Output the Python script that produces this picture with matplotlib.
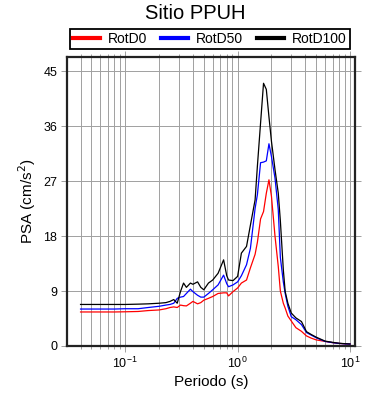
import matplotlib
matplotlib.use("Agg")
import matplotlib.pyplot as plt
from matplotlib.ticker import LogLocator, NullFormatter

plt.rcParams['font.family'] = ['Liberation Sans', 'DejaVu Sans']

periods = [0.04, 0.05, 0.06, 0.08, 0.10, 0.13, 0.16, 0.20, 0.23, 0.25, 0.27, 0.29,
           0.31, 0.33, 0.35, 0.38, 0.40, 0.44, 0.47, 0.50, 0.55, 0.60, 0.67, 0.75,
           0.80, 0.83, 0.91, 1.0, 1.08, 1.2, 1.3, 1.43, 1.5, 1.6, 1.7, 1.8, 1.9,
           2.0, 2.15, 2.3, 2.4, 2.55, 2.65, 2.8, 3.0, 3.3, 3.7, 4.1, 4.5, 5.0,
           6.0, 7.0, 8.0, 9.0, 10.0]

rotd100 = [6.8, 6.8, 6.8, 6.8, 6.8, 6.85, 6.9, 7.0, 7.1, 7.3, 7.6, 7.0,
           8.9, 10.3, 9.6, 10.3, 10.1, 10.5, 9.6, 9.2, 10.3, 10.8, 11.9, 14.1,
           11.5, 10.8, 10.7, 11.4, 15.2, 16.3, 19.8, 23.9, 29.5, 36.5, 43.0, 42.0, 37.5,
           33.5, 28.9, 25.0, 20.5, 12.5, 8.9, 7.0, 5.4, 4.6, 4.0, 2.35, 1.9, 1.45,
           0.8, 0.6, 0.45, 0.38, 0.33]

rotd50 = [6.05, 6.05, 6.05, 6.05, 6.1, 6.1, 6.3, 6.5, 6.7, 6.8, 7.0, 7.8,
          8.0, 8.1, 8.6, 9.3, 8.9, 8.3, 8.0, 8.0, 8.6, 9.2, 10.0, 11.6,
          10.2, 9.7, 10.0, 10.5, 11.5, 13.3, 16.0, 22.5, 24.8, 30.0, 30.1, 30.3, 33.1,
          31.0, 27.5, 22.3, 14.5, 10.5, 8.6, 6.5, 4.8, 4.3, 3.5, 2.2, 1.8, 1.35,
          0.75, 0.55, 0.42, 0.36, 0.32]

rotd0 = [5.57, 5.57, 5.57, 5.57, 5.6, 5.65, 5.8, 5.9, 6.1, 6.3, 6.4, 6.3,
         6.7, 6.6, 6.56, 7.0, 7.3, 6.9, 7.1, 7.5, 7.8, 8.1, 8.6, 8.7,
         8.7, 8.2, 8.9, 9.5, 10.3, 10.8, 12.8, 15.0, 17.0, 20.8, 22.0, 25.0, 27.2,
         24.5, 18.0, 13.0, 9.0, 7.0, 6.2, 4.9, 4.1, 3.0, 2.4, 1.65, 1.3, 1.0,
         0.75, 0.55, 0.42, 0.36, 0.32]

series_labels = ['RotD0', 'RotD50', 'RotD100']
series_colors = ['#ff0000', '#0000ff', '#000000']
yticks = [0, 9, 18, 27, 36, 45]

fig = plt.figure(figsize=(3.9, 4.0), dpi=100)
ax = fig.add_axes([67/390, 1-346/400, (355-67)/390, (346-57)/400])

for vals, lab, col in zip([rotd0, rotd50, rotd100], series_labels, series_colors):
    ax.plot(periods, vals, color=col, lw=0.9, label=lab, zorder=3)

ax.set_xscale('log')
ax.set_xlim(0.0303, 11.08)
ax.set_ylim(0, 47.3)
ax.set_yticks(yticks)
ax.xaxis.set_major_locator(LogLocator(base=10, numticks=10))
ax.xaxis.set_minor_locator(LogLocator(base=10, subs=range(2, 10), numticks=20))
ax.xaxis.set_minor_formatter(NullFormatter())

gcol = '#a0a0a0'
ax.grid(True, which='both', axis='x', color=gcol, lw=0.7, zorder=1)
ax.grid(True, which='major', axis='y', color=gcol, lw=0.7, zorder=1)
ax.set_axisbelow(True)

ax.tick_params(which='both', direction='out', color=gcol, top=True, right=True,
               labelsize=9, pad=3)
ax.tick_params(which='major', length=4, width=0.7)
ax.tick_params(which='minor', length=2.5, width=0.7)

for s in ax.spines.values():
    s.set_linewidth(1.6)
    s.set_color('#222222')

ax.set_xlabel('Periodo (s)', fontsize=11, labelpad=3)
ax.set_ylabel('PSA (cm/s$^2$)', fontsize=11, labelpad=4)
fig.suptitle('Sitio PPUH', fontsize=14.5, y=1-4/400, va='top')

leg = fig.legend(loc='center', bbox_to_anchor=(210/390, 1-39/400), ncol=3,
                 fontsize=10, frameon=True, fancybox=False, edgecolor='black',
                 framealpha=1, handlelength=1.9, columnspacing=1.0,
                 handletextpad=0.6, borderpad=0.25, borderaxespad=0)
leg.get_frame().set_linewidth(1.3)
for line in leg.get_lines():
    line.set_linewidth(3)

fig.savefig('out.png', dpi=100)
